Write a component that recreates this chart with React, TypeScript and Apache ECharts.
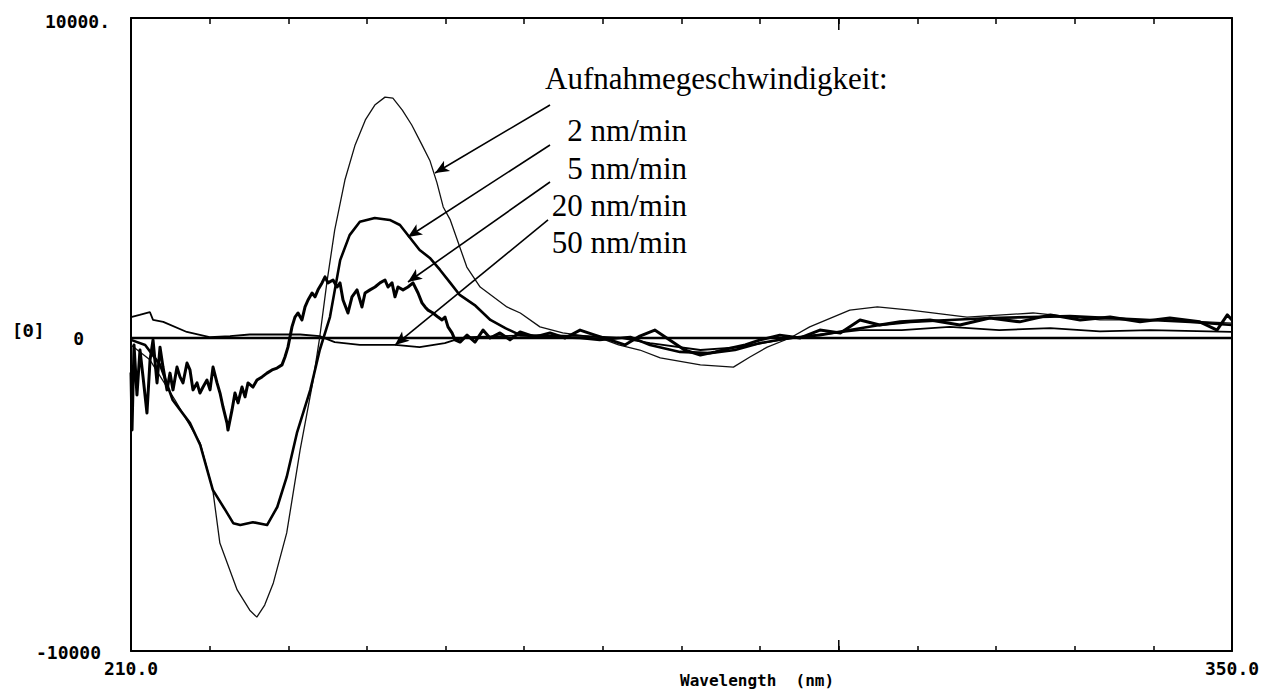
import React, { useEffect, useRef } from "react";
import * as echarts from "echarts";

// wavelength (nm), [Θ]
const curve2: [number, number][] = [
  [210, -330], [212.4, -800], [215.6, -2070], [218.8, -3430], [220.4, -4910], [221.3, -6590],
  [223.5, -8070], [225.1, -8710], [226.0, -8930], [227.0, -8550], [228.1, -7850], [229.8, -6270],
  [231.5, -3650], [233.1, -1530], [234.0, -80], [234.9, 1630], [235.9, 3300], [237.2, 4880],
  [238.5, 5990], [239.8, 6780], [241.0, 7250], [242.3, 7500], [243.3, 7470], [244.5, 7090],
  [245.7, 6620], [247.0, 5990], [248.0, 5500], [248.9, 4800], [249.7, 4030], [250.6, 3620],
  [252.7, 2130], [254.4, 1500], [257.8, 870], [259.5, 680], [262.0, 240], [264.9, 50],
  [269.6, -110], [272.0, -330], [274.7, -490], [277.3, -740], [282.4, -960], [286.6, -1030],
  [288.7, -710], [290.9, -400], [293.8, -110], [296.3, 240], [301.4, 770], [304.9, 870],
  [309.1, 770], [316.3, 550], [324.7, 680], [333.2, 460], [341.7, 460], [350, 360],
];

const curve5: [number, number][] = [
  [210, -170], [211.8, -330], [213.7, -960], [215.3, -2070], [217.5, -2800], [218.8, -3490],
  [220.4, -4910], [222.0, -5550], [223.0, -5960], [223.9, -6020], [225.5, -5930], [227.3, -6020],
  [228.6, -5450], [229.8, -4500], [231.1, -3110], [232.8, -1750], [234.0, -490], [235.3, 550],
  [236.6, 2350], [237.8, 3140], [239.1, 3560], [241.0, 3680], [242.9, 3620], [244.2, 3460],
  [245.5, 3050], [246.7, 2670], [248.0, 2420], [249.3, 2040], [250.6, 1630], [251.8, 1250],
  [253.7, 930], [255.7, 460], [257.6, 200], [259.5, -20], [263.3, -80], [267.1, -110],
  [269.6, -170], [273.5, -80], [276.0, -330], [279.8, -550], [283.6, -590], [286.8, -490],
  [290.0, -270], [293.8, -110], [297.6, -20], [301.4, 140], [305.2, 300], [309.1, 400],
  [314.1, 460], [319.2, 520], [324.3, 550], [329.4, 580], [334.5, 520], [339.6, 460],
  [344.7, 400], [350, 300],
];

const curve20: [number, number][] = [
  [210.0, -1200], [210.13, -3020], [210.38, -330], [210.76, -1910], [211.14, -490], [211.53, -1340],
  [212.03, -2480], [212.42, -810], [212.8, -170], [213.31, -1530], [213.69, -400], [214.07, -1030],
  [214.58, -1750], [214.96, -1220], [215.34, -1750], [215.85, -1030], [216.23, -1340], [216.61, -1530],
  [217.12, -900], [217.5, -1120], [217.88, -1750], [218.39, -1530], [218.77, -1850], [219.16, -1660],
  [219.66, -1440], [220.05, -1750], [220.43, -1030], [220.94, -1530], [221.32, -1850], [221.7, -2290],
  [222.21, -2800], [222.33, -3020], [222.84, -2390], [223.22, -1850], [223.61, -2160], [224.11, -1660],
  [224.5, -1970], [224.88, -1530], [225.51, -1660], [226.02, -1440], [226.66, -1340], [227.29, -1220],
  [227.93, -1120], [228.57, -1060], [229.2, -960], [229.58, -710], [229.96, -400], [230.47, 240],
  [230.85, 550], [231.24, 680], [231.74, 460], [232.13, 870], [232.51, 1090], [233.02, 1310],
  [233.4, 1190], [233.78, 1410], [234.29, 1630], [234.67, 1820], [235.05, 1630], [235.69, 1720],
  [236.2, 1500], [236.58, 1630], [236.96, 1090], [237.59, 680], [238.1, 1190], [238.74, 1410],
  [239.37, 870], [239.76, 1310], [240.39, 1410], [241.03, 1500], [241.66, 1630], [242.3, 1720],
  [242.68, 1500], [243.19, 1630], [243.57, 1190], [243.95, 1500], [244.59, 1410], [245.22, 1500],
  [245.86, 1630], [246.5, 1310], [247.0, 1000], [247.39, 870], [247.77, 770], [248.4, 680],
  [249.04, 550], [249.55, 460], [249.93, 550], [250.31, 240], [250.82, 50], [251.2, -170],
  [251.84, -240], [252.73, -20], [253.74, -240], [254.76, 140], [255.65, -110], [256.92, 50],
  [258.19, -170], [259.47, 80], [261.37, -80], [263.28, 50], [265.2, -110], [267.1, 140],
  [269.0, -20], [270.9, -170], [272.8, -330], [274.7, -50], [276.6, 140], [278.5, -170],
  [280.4, -490], [282.4, -650], [284.3, -550], [286.2, -430], [288.1, -330], [290.0, -170],
  [292.5, -20], [295.1, -110], [297.6, 140], [300.2, 50], [302.7, 460], [305.2, 300],
  [307.8, 400], [311.6, 460], [315.4, 300], [319.2, 520], [323.0, 400], [326.9, 620],
  [330.7, 460], [334.5, 550], [338.3, 400], [342.1, 520], [345.9, 400], [348.1, 140],
  [349.4, 620], [350, 460],
];

const curve50: [number, number][] = [
  [210, 550], [211.1, 620], [212.4, 710], [212.8, 460], [214.1, 400], [217.1, 80],
  [220.0, -80], [222.6, -50], [225.1, 0], [227.7, 0], [231.5, 0], [234.0, -50],
  [235.9, -240], [239.1, -330], [243.6, -330], [246.7, -400], [249.9, -270], [251.2, -170],
  [253.1, -80], [256.9, -50], [262.0, -20], [268.0, -50], [272.0, -100], [276.0, -270],
  [282.4, -490], [287.4, -400], [292.5, -170], [297.6, 0], [302.7, 140], [308.0, 140],
  [314.1, 240], [320.4, 140], [326.9, 200], [333.2, 100], [339.6, 140], [350, 80],
];

const baseline: [number, number][] = [[210, -110], [350, -110]];

const seriesNames = ["2 nm/min", "5 nm/min", "20 nm/min", "50 nm/min"];
const title = "Aufnahmegeschwindigkeit:";
const majorTick = 300;

// arrow annotations: [startWl, startVal, tipWl, tipVal]
const arrows: [number, number, number, number][] = [
  [263.28, 7252, 248.66, 5103],
  [263.28, 5988, 245.22, 3081],
  [263.28, 4819, 245.22, 1659],
  [263.03, 3618, 243.57, -332],
];

const xMin = 210;
const xMax = 350;
const yMin = -10000;
const yMax = 10000;

const MONO = "'DejaVu Sans Mono', monospace";
const SERIF = "'Liberation Serif', 'Times New Roman', serif";

export default function App() {
  const ref = useRef<HTMLDivElement>(null);
  useEffect(() => {
    if (!ref.current) return;
    const chart = echarts.init(ref.current, undefined, { renderer: "svg" });
    const axisLineStyle = { color: "#000", width: 2 };
    const labelFont = `31px ${SERIF}`;
    const option: any = {
      animation: false,
      backgroundColor: "#fff",
      grid: { left: 131, right: 35, top: 18, bottom: 42 },
      xAxis: [
        {
          type: "value", position: "bottom", min: xMin, max: xMax, interval: 10,
          axisLine: { show: true, onZero: false, lineStyle: axisLineStyle },
          axisTick: { show: true, inside: true, length: 5, lineStyle: { color: "#000", width: 1.5 } },
          axisLabel: {
            show: true, margin: 8, color: "#000", fontFamily: MONO, fontWeight: "bold", fontSize: 18,
            showMinLabel: true, showMaxLabel: true,
            formatter: (v: number) => (v === xMin || v === xMax ? v.toFixed(1) : ""),
          },
          splitLine: { show: false },
        },
        {
          type: "value", position: "top", min: xMin, max: xMax, interval: 10,
          axisLine: { show: true, onZero: false, lineStyle: axisLineStyle },
          axisTick: { show: true, inside: true, length: 6, lineStyle: { color: "#000", width: 1.5 } },
          axisLabel: { show: false },
          splitLine: { show: false },
        },
      ],
      yAxis: [
        {
          type: "value", position: "left", min: yMin, max: yMax, interval: 10000,
          axisLine: { show: true, onZero: false, lineStyle: axisLineStyle },
          axisTick: { show: false }, axisLabel: { show: false }, splitLine: { show: false },
        },
        {
          type: "value", position: "right", min: yMin, max: yMax, interval: 10000,
          axisLine: { show: true, onZero: false, lineStyle: axisLineStyle },
          axisTick: { show: false }, axisLabel: { show: false }, splitLine: { show: false },
        },
      ],
      series: [
        {
          name: "baseline", type: "line", data: baseline, showSymbol: false, silent: true,
          lineStyle: { color: "#000", width: 2.5 },
          markLine: {
            silent: true, symbol: ["none", "arrow"], symbolSize: [9, 14],
            lineStyle: { color: "#000", width: 1.6, type: "solid" },
            label: { show: false },
            data: arrows.map((a) => [{ coord: [a[0], a[1]] }, { coord: [a[2], a[3]] }]),
          },
        },
        {
          name: seriesNames[0], type: "line", data: curve2, showSymbol: false,
          lineStyle: { color: "#111", width: 1.3 },
        },
        {
          name: seriesNames[1], type: "line", data: curve5, showSymbol: false,
          lineStyle: { color: "#000", width: 2.6, join: "round" },
        },
        {
          name: seriesNames[2], type: "line", data: curve20, showSymbol: false,
          lineStyle: { color: "#000", width: 3, join: "round" },
        },
        {
          name: seriesNames[3], type: "line", data: curve50, showSymbol: false,
          lineStyle: { color: "#000", width: 1.8 },
        },
      ],
      graphic: [
        { id: "t1", type: "text", x: 110, y: 21, style: { text: "10000.", font: `bold 18px ${MONO}`, fill: "#000", align: "right", verticalAlign: "middle" } },
        { id: "t2", type: "text", x: 84, y: 338, style: { text: "0", font: `bold 18px ${MONO}`, fill: "#000", align: "right", verticalAlign: "middle" } },
        { id: "t3", type: "text", x: 12, y: 330, style: { text: "[Θ]", font: `bold 18px ${MONO}`, fill: "#000", align: "left", verticalAlign: "middle" } },
        { id: "t4", type: "text", x: 101, y: 652, style: { text: "-10000", font: `bold 18px ${MONO}`, fill: "#000", align: "right", verticalAlign: "middle" } },
        { id: "t5", type: "text", x: 680, y: 680, style: { text: "Wavelength  (nm)", font: `bold 16px ${MONO}`, fill: "#000", align: "left", verticalAlign: "middle" } },
        { id: "t6", type: "text", x: 545, y: 63, style: { text: title, font: labelFont, fill: "#000", align: "left", verticalAlign: "alphabetic" } },
        { id: "t7", type: "text", x: 687, y: 115, style: { text: seriesNames[0], font: labelFont, fill: "#000", align: "right", verticalAlign: "alphabetic" } },
        { id: "t8", type: "text", x: 687, y: 153, style: { text: seriesNames[1], font: labelFont, fill: "#000", align: "right", verticalAlign: "alphabetic" } },
        { id: "t9", type: "text", x: 687, y: 190, style: { text: seriesNames[2], font: labelFont, fill: "#000", align: "right", verticalAlign: "alphabetic" } },
        { id: "t10", type: "text", x: 687, y: 227, style: { text: seriesNames[3], font: labelFont, fill: "#000", align: "right", verticalAlign: "alphabetic" } },
      ],
    };
    chart.setOption(option);
    const px = chart.convertToPixel({ xAxisIndex: 0 }, majorTick) as number;
    const pyTop = chart.convertToPixel({ yAxisIndex: 0 }, yMax) as number;
    const pyBot = chart.convertToPixel({ yAxisIndex: 0 }, yMin) as number;
    chart.setOption({
      graphic: [
        { id: "mt1", type: "line", shape: { x1: px, y1: pyTop, x2: px, y2: pyTop + 12 }, style: { stroke: "#000", lineWidth: 1.5 } },
        { id: "mt2", type: "line", shape: { x1: px, y1: pyBot, x2: px, y2: pyBot - 11 }, style: { stroke: "#000", lineWidth: 1.5 } },
      ],
    });
    return () => chart.dispose();
  }, []);
  return (
    <div
      ref={ref}
      style={{ position: "fixed", left: 0, top: 0, width: 1267, height: 693, background: "#fff" }}
    />
  );
}
